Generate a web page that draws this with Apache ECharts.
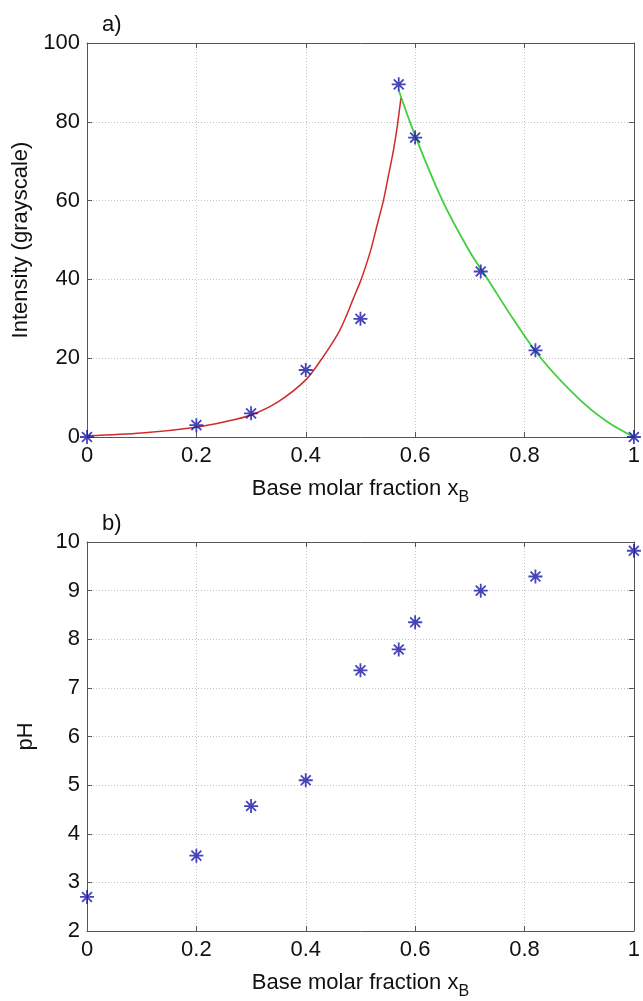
<!DOCTYPE html>
<html>
<head>
<meta charset="utf-8">
<script src="https://cdn.jsdelivr.net/npm/echarts@6/dist/echarts.min.js"></script>
<style>
  html, body { margin: 0; padding: 0; background: #ffffff; }
  #chart { width: 643px; height: 1001px; }
</style>
</head>
<body>
<div id="chart"></div>
<script>
// Measured samples: base molar fraction, intensity and pH
const xB        = [0, 0.2, 0.3, 0.4, 0.5, 0.57, 0.6, 0.72, 0.82, 1];
const intensity = [0, 3, 6, 17, 30, 89.5, 76, 42, 22, 0];
const pH        = [2.7, 3.55, 4.57, 5.1, 7.36, 7.79, 8.35, 9.0, 9.29, 9.82];

// Fitted curve, acidic branch (red)
const redX = [0, 0.1, 0.2, 0.25, 0.3, 0.35, 0.4, 0.43, 0.46, 0.475, 0.486, 0.5, 0.51, 0.52, 0.53, 0.542, 0.55, 0.56, 0.567, 0.574];
const redY = [0.3, 1.0, 2.5, 3.8, 5.6, 9, 14.5, 20, 26.5, 31, 34.8, 39.5, 43.5, 48, 53.5, 60, 65.5, 72.5, 78.5, 86];

// Fitted curve, basic branch (green)
const greenX = [0.57, 0.6, 0.65, 0.7, 0.733, 0.78, 0.83, 0.9, 0.95, 1];
const greenY = [88, 76.5, 60, 47, 40, 29.8, 20, 9.6, 4, 0];

// Axis ticks
const xTicks = [0, 0.2, 0.4, 0.6, 0.8, 1];
const intensityTicks = [0, 20, 40, 60, 80, 100];
const pHTicks = [2, 3, 4, 5, 6, 7, 8, 9, 10];

const FONT = "'Liberation Sans', Arial, sans-serif";
const BOX = '#555555';
const GRIDLINE = '#c4c4c4';
const MARKER = '#1616a6';

const asterisk = 'path://M0,-10L0,10M-10,0L10,0M-7.07,-7.07L7.07,7.07M-7.07,7.07L7.07,-7.07';

const pairs = (xs, ys) => xs.map((x, i) => [x, ys[i]]);

function fmt(v) { return String(+v.toFixed(2)); }

function mainX(gridIndex) {
  return {
    type: 'value', gridIndex, position: 'bottom',
    min: xTicks[0], max: xTicks[xTicks.length - 1], interval: 0.2,
    axisLine: { show: true, onZero: false, lineStyle: { color: BOX, width: 1 } },
    axisTick: { show: true, inside: true, length: 5, lineStyle: { color: BOX } },
    axisLabel: { show: true, margin: 8, fontSize: 22, fontFamily: FONT, color: '#111', formatter: fmt },
    splitLine: { show: true, lineStyle: { color: GRIDLINE, type: [1, 2], width: 1 } },
    name: 'Base molar fraction x{sub|B}',
    nameLocation: 'middle', nameGap: 35,
    nameTextStyle: {
      fontSize: 22, fontFamily: FONT, color: '#111',
      rich: { sub: { fontSize: 16, fontFamily: FONT, color: '#111', padding: [18, 0, 0, 0] } }
    }
  };
}

function mirrorX(gridIndex) {
  return {
    type: 'value', gridIndex, position: 'top',
    min: xTicks[0], max: xTicks[xTicks.length - 1], interval: 0.2,
    axisLine: { show: true, onZero: false, lineStyle: { color: BOX, width: 1 } },
    axisTick: { show: true, inside: true, length: 5, lineStyle: { color: BOX } },
    axisLabel: { show: false },
    splitLine: { show: false }
  };
}

function mainY(gridIndex, ticks, step, name, gap) {
  return {
    type: 'value', gridIndex, position: 'left',
    min: ticks[0], max: ticks[ticks.length - 1], interval: step,
    axisLine: { show: true, onZero: false, lineStyle: { color: BOX, width: 1 } },
    axisTick: { show: true, inside: true, length: 5, lineStyle: { color: BOX } },
    axisLabel: { show: true, margin: 7, fontSize: 22, fontFamily: FONT, color: '#111' },
    splitLine: { show: true, lineStyle: { color: GRIDLINE, type: [1, 2], width: 1 } },
    name, nameLocation: 'middle', nameGap: gap, nameRotate: 90,
    nameTextStyle: { fontSize: 22, fontFamily: FONT, color: '#111' }
  };
}

function mirrorY(gridIndex, ticks, step) {
  return {
    type: 'value', gridIndex, position: 'right',
    min: ticks[0], max: ticks[ticks.length - 1], interval: step,
    axisLine: { show: true, onZero: false, lineStyle: { color: BOX, width: 1 } },
    axisTick: { show: true, inside: true, length: 5, lineStyle: { color: BOX } },
    axisLabel: { show: false },
    splitLine: { show: false }
  };
}

const chart = echarts.init(document.getElementById('chart'), null, { renderer: 'canvas' });

chart.setOption({
  backgroundColor: '#ffffff',
  animation: false,
  title: [
    { text: 'a)', left: 97, top: 9, textStyle: { fontSize: 22, fontWeight: 'normal', fontFamily: FONT, color: '#111' } },
    { text: 'b)', left: 97, top: 508, textStyle: { fontSize: 22, fontWeight: 'normal', fontFamily: FONT, color: '#111' } }
  ],
  grid: [
    { left: 87, right: 4, top: 43, height: 394 },
    { left: 87, right: 4, top: 542, height: 394 }
  ],
  xAxis: [mainX(0), mirrorX(0), mainX(1), mirrorX(1)],
  yAxis: [
    mainY(0, intensityTicks, 20, 'Intensity (grayscale)', 48),
    mirrorY(0, intensityTicks, 20),
    mainY(1, pHTicks, 1, 'pH', 50),
    mirrorY(1, pHTicks, 1)
  ],
  series: [
    {
      type: 'line', xAxisIndex: 0, yAxisIndex: 0,
      data: pairs(redX, redY), smooth: 0.3,
      showSymbol: false, lineStyle: { color: '#d02a2a', width: 1.5 }, z: 2
    },
    {
      type: 'line', xAxisIndex: 0, yAxisIndex: 0,
      data: pairs(greenX, greenY), smooth: 0.35,
      showSymbol: false, lineStyle: { color: '#3fcf3f', width: 1.8 }, z: 2
    },
    {
      type: 'scatter', xAxisIndex: 0, yAxisIndex: 0,
      data: pairs(xB, intensity), symbol: asterisk, symbolSize: 14,
      itemStyle: { color: 'rgba(0,0,0,0)', borderColor: MARKER, borderWidth: 1.8 }, z: 3
    },
    {
      type: 'scatter', xAxisIndex: 2, yAxisIndex: 2,
      data: pairs(xB, pH), symbol: asterisk, symbolSize: 14,
      itemStyle: { color: 'rgba(0,0,0,0)', borderColor: MARKER, borderWidth: 1.8 }, z: 3
    }
  ]
});
</script>
</body>
</html>
